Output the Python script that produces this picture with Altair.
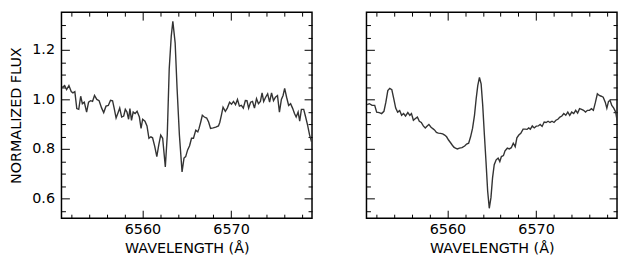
import altair as alt
import pandas as pd

# ---- data ----
wl_left = [6550.95, 6551.21, 6551.43, 6551.69, 6551.95, 6552.14, 6552.36, 6552.58, 6552.80, 6553.02,
           6553.21, 6553.43, 6553.69, 6553.91, 6554.14, 6554.36, 6554.58, 6554.84, 6555.10, 6555.39,
           6555.62, 6555.88, 6556.14, 6556.39, 6556.62, 6556.80, 6557.02, 6557.25, 6557.43, 6557.65,
           6557.88, 6558.06, 6558.25, 6558.43, 6558.58, 6558.76, 6558.95, 6559.17, 6559.39, 6559.65,
           6559.84, 6560.02, 6560.28, 6560.51, 6560.73, 6560.95, 6561.14, 6561.39, 6561.62, 6561.84,
           6562.06, 6562.28, 6562.58, 6562.80, 6563.02, 6563.25, 6563.43, 6563.69, 6563.91, 6564.17,
           6564.47, 6564.69, 6564.88, 6565.10, 6565.32, 6565.54, 6565.76, 6566.02, 6566.25, 6566.39,
           6566.58, 6566.76, 6566.99, 6567.25, 6567.47, 6567.69, 6567.99, 6568.28, 6568.58, 6568.73,
           6568.91, 6569.10, 6569.36, 6569.58, 6569.84, 6570.06, 6570.28, 6570.51, 6570.73, 6570.95,
           6571.17, 6571.39, 6571.62, 6571.80, 6571.99, 6572.21, 6572.43, 6572.65, 6572.88, 6573.10,
           6573.32, 6573.51, 6573.69, 6573.91, 6574.14, 6574.36, 6574.58, 6574.80, 6575.02, 6575.25,
           6575.47, 6575.69, 6575.88, 6576.06, 6576.28, 6576.51, 6576.73, 6576.95, 6577.17, 6577.36,
           6577.58, 6577.76, 6577.95, 6578.21, 6578.43, 6578.65, 6578.88, 6579.10]
flux_left = [1.049, 1.056, 1.040, 1.056, 1.032, 1.027, 1.032, 0.963, 0.960, 1.013,
             0.983, 0.989, 0.949, 0.989, 0.995, 0.992, 1.016, 1.000, 0.995, 0.965,
             0.947, 0.973, 0.976, 0.997, 0.995, 0.965, 0.925, 0.947, 0.965, 0.929,
             0.933, 0.960, 0.949, 0.920, 0.963, 0.915, 0.949, 0.943, 0.952, 0.929,
             0.883, 0.920, 0.912, 0.893, 0.843, 0.849, 0.845, 0.809, 0.769, 0.816,
             0.856, 0.843, 0.727, 0.856, 1.123, 1.256, 1.316, 1.229, 1.043, 0.856,
             0.707, 0.763, 0.769, 0.796, 0.813, 0.843, 0.843, 0.876, 0.869, 0.883,
             0.909, 0.936, 0.929, 0.925, 0.909, 0.883, 0.885, 0.888, 0.893, 0.907,
             0.936, 0.969, 0.952, 0.965, 0.989, 0.981, 0.992, 0.979, 1.000, 0.973,
             0.976, 0.965, 0.996, 0.995, 0.965, 0.989, 0.992, 0.965, 1.003, 0.983,
             0.992, 1.027, 0.992, 1.009, 1.023, 0.989, 1.027, 0.995, 1.009, 1.016,
             0.949, 1.000, 1.016, 1.045, 1.009, 0.976, 0.983, 0.965, 0.943, 0.929,
             0.949, 0.912, 0.960, 0.960, 0.929, 0.896, 0.856, 0.829]

wl_right = [6550.92, 6551.18, 6551.48, 6551.78, 6552.00, 6552.30, 6552.56, 6552.82, 6553.04, 6553.26,
            6553.48, 6553.71, 6553.93, 6554.15, 6554.37, 6554.60, 6554.82, 6555.04, 6555.26, 6555.52,
            6555.75, 6555.93, 6556.15, 6556.38, 6556.60, 6556.82, 6557.04, 6557.27, 6557.49, 6557.71,
            6557.90, 6558.12, 6558.31, 6558.53, 6558.75, 6558.97, 6559.20, 6559.46, 6559.68, 6559.90,
            6560.12, 6560.35, 6560.53, 6560.72, 6560.90, 6561.12, 6561.35, 6561.64, 6561.94, 6562.16,
            6562.39, 6562.61, 6562.83, 6563.05, 6563.24, 6563.42, 6563.61, 6563.80, 6563.98, 6564.17,
            6564.35, 6564.54, 6564.72, 6564.91, 6565.09, 6565.28, 6565.50, 6565.72, 6565.91, 6566.09,
            6566.32, 6566.50, 6566.76, 6566.98, 6567.21, 6567.43, 6567.65, 6567.84, 6568.06, 6568.28,
            6568.54, 6568.77, 6568.99, 6569.17, 6569.36, 6569.58, 6569.80, 6570.03, 6570.25, 6570.47,
            6570.69, 6570.92, 6571.14, 6571.36, 6571.58, 6571.81, 6572.03, 6572.25, 6572.47, 6572.70,
            6572.92, 6573.14, 6573.36, 6573.59, 6573.81, 6574.03, 6574.26, 6574.48, 6574.70, 6574.92,
            6575.15, 6575.37, 6575.59, 6575.81, 6576.04, 6576.26, 6576.48, 6576.70, 6576.93, 6577.15,
            6577.37, 6577.59, 6577.82, 6578.00, 6578.19, 6578.37, 6578.56, 6578.78, 6579.00, 6579.15]
flux_right = [0.979, 0.983, 0.976, 0.976, 0.949, 0.947, 0.943, 0.952, 0.989, 1.036,
              1.045, 1.040, 1.003, 0.965, 0.949, 0.955, 0.936, 0.943, 0.933, 0.947,
              0.936, 0.943, 0.916, 0.923, 0.929, 0.912, 0.907, 0.893, 0.885, 0.893,
              0.899, 0.889, 0.883, 0.877, 0.867, 0.864, 0.863, 0.861, 0.856, 0.849,
              0.836, 0.825, 0.816, 0.807, 0.803, 0.800, 0.803, 0.805, 0.812, 0.820,
              0.823, 0.849, 0.883, 0.936, 1.003, 1.056, 1.089, 1.063, 0.976, 0.856,
              0.749, 0.629, 0.560, 0.603, 0.683, 0.736, 0.756, 0.763, 0.749, 0.769,
              0.773, 0.792, 0.803, 0.800, 0.805, 0.823, 0.809, 0.845, 0.856, 0.863,
              0.880, 0.880, 0.879, 0.885, 0.880, 0.893, 0.885, 0.892, 0.893, 0.899,
              0.891, 0.909, 0.907, 0.912, 0.907, 0.912, 0.907, 0.916, 0.920, 0.929,
              0.933, 0.943, 0.936, 0.949, 0.936, 0.949, 0.943, 0.956, 0.945, 0.963,
              0.960, 0.956, 0.949, 0.956, 0.956, 0.963, 0.956, 0.987, 1.023, 1.016,
              1.013, 1.009, 0.989, 0.965, 0.992, 0.996, 0.976, 0.965, 0.949, 0.916]

x_domain = [6550.85, 6579.15]
y_domain = [0.52, 1.353]
x_major = [6560, 6570]
x_minor = [6552, 6554, 6556, 6558, 6562, 6564, 6566, 6568, 6572, 6574, 6576, 6578]
y_major = [0.6, 0.8, 1.0, 1.2]
y_minor = [0.55, 0.65, 0.7, 0.75, 0.85, 0.9, 0.95, 1.05, 1.1, 1.15, 1.25, 1.3]

FONT = "DejaVu Sans"
FS = 14.5
W, H = 253, 208
MAJ, MIN = 8, 4

txt = dict(labelFont=FONT, titleFont=FONT, labelFontSize=FS, titleFontSize=FS,
           labelColor="black", titleColor="black", titleFontWeight="normal")


def panel(wl, fl, show_y):
    df = pd.DataFrame({"wl": wl, "flux": fl})
    base = alt.Chart(df)
    xs = alt.Scale(domain=x_domain, nice=False, zero=False)
    ys = alt.Scale(domain=y_domain, nice=False, zero=False)

    def ticks(xo, yo, xv, yv, size):
        return base.mark_line(opacity=0).encode(
            x=alt.X("wl:Q", scale=xs,
                    axis=alt.Axis(orient=xo, values=xv, tickSize=size, offset=-size,
                                  labels=False, domain=False, grid=False, title=None,
                                  tickColor="black", tickWidth=1)),
            y=alt.Y("flux:Q", scale=ys,
                    axis=alt.Axis(orient=yo, values=yv, tickSize=size, offset=-size,
                                  labels=False, domain=False, grid=False, title=None,
                                  tickColor="black", tickWidth=1)),
        )

    if show_y:
        yaxis = alt.Axis(orient="left", values=y_major, format=".1f", ticks=False,
                         domain=False, grid=False, labelPadding=7, title="NORMALIZED FLUX",
                         titlePadding=8, **txt)
    else:
        yaxis = None
    line = base.mark_line(color="#333333", strokeWidth=1.4, clip=True).encode(
        x=alt.X("wl:Q", scale=xs,
                axis=alt.Axis(orient="bottom", values=x_major, format="d", ticks=False,
                              domain=False, grid=False, labelPadding=4,
                              title="WAVELENGTH (Å)", titlePadding=6, **txt)),
        y=alt.Y("flux:Q", scale=ys, axis=yaxis),
    )
    return alt.layer(
        line,
        ticks("bottom", "left", x_major, y_major, MAJ),
        ticks("bottom", "left", x_minor, y_minor, MIN),
        ticks("top", "right", x_major, y_major, MAJ),
        ticks("top", "right", x_minor, y_minor, MIN),
    ).resolve_axis(x="independent", y="independent").properties(width=W, height=H)


chart = alt.hconcat(panel(wl_left, flux_left, True), panel(wl_right, flux_right, False),
                    spacing=51).properties(
    padding={"left": 0, "top": 1, "right": 0, "bottom": 0},
    background="white",
).configure_view(stroke="black", strokeWidth=1.5)

chart.save("out.html", embed_options={"renderer": "svg", "actions": False})
